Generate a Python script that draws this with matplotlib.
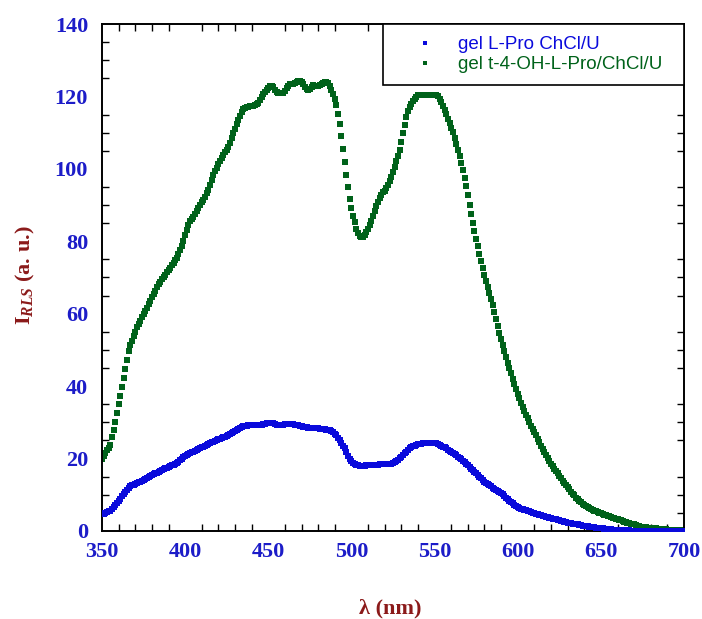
import numpy as np
import matplotlib
matplotlib.use("Agg")
import matplotlib.pyplot as plt
from matplotlib.ticker import MultipleLocator

# RLS intensity, one value per nm starting at 350 nm
l_pro = [
    4.7, 4.8, 5.0, 5.2, 5.4, 5.6, 6.1, 6.7, 7.3, 7.8,
    8.3, 8.9, 9.6, 10.2, 10.8, 11.4, 12.0, 12.4, 12.6, 12.8,
    13.0, 13.2, 13.4, 13.6, 13.9, 14.1, 14.3, 14.6, 14.9, 15.1,
    15.4, 15.6, 15.9, 16.1, 16.4, 16.6, 16.8, 17.1, 17.3, 17.5,
    17.7, 17.9, 18.1, 18.3, 18.5, 18.8, 19.1, 19.5, 19.9, 20.3,
    20.7, 21.0, 21.2, 21.5, 21.7, 21.9, 22.2, 22.4, 22.7, 22.9,
    23.1, 23.3, 23.6, 23.8, 24.0, 24.2, 24.5, 24.7, 24.9, 25.1,
    25.3, 25.5, 25.7, 25.9, 26.0, 26.2, 26.4, 26.7, 27.0, 27.2,
    27.5, 27.8, 28.1, 28.4, 28.7, 29.0, 29.1, 29.1, 29.2, 29.2,
    29.2, 29.2, 29.2, 29.3, 29.3, 29.4, 29.4, 29.5, 29.6, 29.7,
    29.8, 29.9, 29.9, 29.8, 29.6, 29.4, 29.2, 29.2, 29.3, 29.4,
    29.5, 29.5, 29.5, 29.5, 29.5, 29.5, 29.4, 29.4, 29.3, 29.1,
    28.9, 28.8, 28.7, 28.6, 28.5, 28.5, 28.4, 28.4, 28.3, 28.3,
    28.3, 28.2, 28.2, 28.1, 28.1, 28.0, 28.0, 27.8, 27.5, 27.2,
    26.9, 26.4, 25.8, 25.1, 24.4, 23.6, 22.8, 21.7, 20.6, 19.9,
    19.3, 18.8, 18.5, 18.3, 18.1, 18.0, 18.0, 18.0, 18.0, 18.1,
    18.1, 18.1, 18.2, 18.2, 18.2, 18.3, 18.3, 18.4, 18.4, 18.4,
    18.4, 18.4, 18.5, 18.5, 18.5, 18.7, 19.0, 19.3, 19.6, 20.1,
    20.5, 21.0, 21.4, 21.9, 22.4, 22.8, 23.2, 23.4, 23.6, 23.8,
    23.9, 24.0, 24.1, 24.2, 24.2, 24.3, 24.3, 24.3, 24.3, 24.3,
    24.2, 24.2, 24.0, 23.8, 23.6, 23.3, 23.1, 22.8, 22.5, 22.2,
    21.9, 21.6, 21.3, 20.9, 20.5, 20.1, 19.8, 19.4, 19.0, 18.6,
    18.2, 17.7, 17.2, 16.8, 16.3, 15.9, 15.4, 15.0, 14.5, 14.1,
    13.6, 13.3, 12.9, 12.6, 12.3, 12.0, 11.7, 11.4, 11.1, 10.9,
    10.5, 10.1, 9.6, 9.2, 8.7, 8.3, 7.9, 7.6, 7.2, 6.9,
    6.6, 6.4, 6.2, 6.1, 5.9, 5.7, 5.6, 5.4, 5.2, 5.0,
    4.9, 4.7, 4.6, 4.5, 4.3, 4.2, 4.0, 3.9, 3.8, 3.6,
    3.5, 3.4, 3.3, 3.2, 3.0, 2.9, 2.8, 2.7, 2.6, 2.4,
    2.3, 2.2, 2.1, 2.0, 1.9, 1.9, 1.8, 1.7, 1.6, 1.5,
    1.4, 1.4, 1.3, 1.2, 1.1, 1.1, 1.0, 0.9, 0.8, 0.8,
    0.7, 0.7, 0.6, 0.6, 0.5, 0.5, 0.5, 0.4, 0.4, 0.4,
    0.3, 0.3, 0.3, 0.3, 0.2, 0.2, 0.2, 0.2, 0.1, 0.1,
    0.1, 0.1, 0.1, 0.1, 0.1, 0.1, 0.1, 0.1, 0.1, 0.1,
    0.1, 0.1, 0.1, 0.1, 0.1, 0.1, 0.1, 0.1, 0.1, 0.1,
    0.1, 0.1, 0.1, 0.1, 0.1, 0.1, 0.1, 0.1, 0.1, 0.1,
    0.1,
]

oh_l_pro = [
    20.0, 20.8, 21.5, 22.3, 23.0, 23.7, 25.9, 28.0, 30.2, 32.5,
    35.0, 37.2, 39.7, 42.3, 44.8, 47.3, 49.8, 51.4, 52.6, 53.8,
    55.0, 56.2, 57.2, 58.1, 59.0, 59.9, 60.8, 61.7, 62.6, 63.6,
    64.6, 65.5, 66.4, 67.3, 68.1, 68.8, 69.6, 70.2, 70.8, 71.4,
    72.0, 72.7, 73.4, 74.1, 74.8, 75.5, 76.4, 77.5, 78.7, 80.2,
    81.7, 83.2, 84.6, 85.6, 86.2, 86.8, 87.4, 88.3, 89.2, 90.0,
    90.8, 91.5, 92.2, 93.2, 94.3, 95.5, 96.9, 98.3, 99.3, 100.3,
    101.3, 102.2, 103.0, 103.8, 104.6, 105.3, 106.1, 107.1, 108.4, 110.0,
    111.0, 112.3, 113.6, 114.7, 115.6, 116.4, 116.9, 117.1, 117.2, 117.3,
    117.4, 117.4, 117.5, 117.8, 118.3, 119.0, 119.8, 120.6, 121.2, 121.8,
    122.4, 122.8, 122.9, 122.5, 121.8, 121.2, 121.0, 120.9, 120.9, 121.0,
    121.6, 122.3, 123.0, 123.3, 123.4, 123.5, 123.7, 124.0, 124.3, 124.3,
    124.0, 123.4, 122.6, 122.1, 121.9, 122.0, 122.6, 123.1, 123.0, 122.9,
    123.0, 123.2, 123.3, 123.6, 124.0, 124.1, 123.6, 122.8, 121.9, 120.8,
    119.2, 117.6, 115.2, 112.3, 109.0, 105.6, 102.0, 98.2, 94.9, 91.8,
    89.2, 87.0, 85.2, 83.4, 82.2, 81.4, 81.1, 81.3, 81.8, 82.6,
    83.4, 84.4, 85.6, 87.0, 88.4, 89.8, 90.9, 91.9, 92.8, 93.5,
    94.0, 94.6, 95.5, 96.6, 97.8, 99.0, 100.6, 102.2, 103.6, 105.2,
    107.4, 109.8, 112.2, 114.3, 115.9, 117.0, 117.8, 118.7, 119.4, 119.9,
    120.3, 120.5, 120.5, 120.5, 120.5, 120.5, 120.5, 120.5, 120.5, 120.5,
    120.5, 120.4, 120.0, 119.3, 118.4, 117.4, 116.3, 115.1, 113.8, 112.6,
    111.3, 110.3, 108.6, 107.0, 105.3, 103.5, 101.6, 99.6, 97.6, 95.3,
    92.7, 90.0, 87.4, 85.1, 82.9, 80.7, 78.6, 76.5, 74.5, 72.7,
    70.8, 69.1, 67.4, 65.7, 64.0, 62.3, 60.5, 58.6, 56.7, 54.8,
    53.0, 51.3, 49.6, 48.0, 46.4, 44.9, 43.5, 42.1, 40.7, 39.3,
    37.9, 36.7, 35.4, 34.2, 33.1, 32.1, 31.1, 30.1, 29.1, 28.2,
    27.3, 26.4, 25.5, 24.5, 23.6, 22.7, 21.8, 21.0, 20.2, 19.4,
    18.6, 17.9, 17.2, 16.6, 15.9, 15.2, 14.5, 13.9, 13.2, 12.6,
    12.1, 11.5, 10.9, 10.3, 9.8, 9.2, 8.7, 8.3, 7.9, 7.5,
    7.1, 6.8, 6.5, 6.3, 6.1, 5.8, 5.6, 5.4, 5.2, 5.0,
    4.9, 4.7, 4.5, 4.4, 4.2, 4.0, 3.8, 3.7, 3.5, 3.4,
    3.2, 3.1, 2.9, 2.7, 2.6, 2.4, 2.3, 2.2, 2.0, 1.9,
    1.8, 1.6, 1.5, 1.3, 1.2, 1.1, 1.1, 1.0, 0.9, 0.9,
    0.8, 0.8, 0.7, 0.7, 0.6, 0.6, 0.6, 0.5, 0.5, 0.5,
    0.4, 0.4, 0.4, 0.4, 0.3, 0.3, 0.3, 0.3, 0.3, 0.2,
    0.2,
]

wl_blue = np.arange(350, 350 + len(l_pro))
wl_green = np.arange(350, 350 + len(oh_l_pro))

labels = ["gel L-Pro ChCl/U", "gel t-4-OH-L-Pro/ChCl/U"]
blue = "#0a0adc"
green = "#00621a"
tick_col = "#1c1cc8"
label_col = "#8b1a1a"

plt.rcParams["mathtext.fontset"] = "custom"
plt.rcParams["mathtext.rm"] = "Liberation Serif:bold"
plt.rcParams["mathtext.bf"] = "Liberation Serif:bold"
plt.rcParams["mathtext.it"] = "Liberation Serif:bold:italic"

fig = plt.figure(figsize=(7.02, 6.19), dpi=100)
ax = fig.add_axes([0.1453, 0.1422, 0.8291, 0.819])

ax.plot(wl_blue, l_pro, "s", color=blue, ms=3.7, mew=0, label=labels[0], zorder=3)
ax.plot(wl_green, oh_l_pro, "s", color=green, ms=3.7, mew=0, label=labels[1], zorder=2)

ax.set_xlim(350, 700)
ax.set_ylim(0, 140)
ax.xaxis.set_major_locator(MultipleLocator(50))
ax.xaxis.set_minor_locator(MultipleLocator(10))
ax.yaxis.set_major_locator(MultipleLocator(20))
ax.yaxis.set_minor_locator(MultipleLocator(5))
ax.tick_params(which="major", length=0)
ax.tick_params(axis="x", which="major", pad=8)
ax.tick_params(axis="y", which="major", pad=10)
ax.tick_params(which="minor", direction="in", length=5, width=1,
               top=True, right=True)
for s in ax.spines.values():
    s.set_linewidth(1.4)

for t in ax.get_xticklabels() + ax.get_yticklabels():
    t.set_fontfamily("Liberation Serif")
    t.set_fontweight("bold")
    t.set_fontsize(16)
    t.set_color(tick_col)

ax.set_xlabel(r"λ (nm)", family="Liberation Serif", weight="bold",
              fontsize=16, color=label_col, va="center")
ax.xaxis.set_label_coords(0.495, -0.152)
ax.set_ylabel(r"I$_{\mathit{RLS}}$ (a. u.)", family="Liberation Serif",
              weight="bold", fontsize=16, color=label_col, va="center")
ax.yaxis.set_label_coords(-0.132, 0.505)

leg = ax.legend(loc="upper left", bbox_to_anchor=(0.483, 1.0, 0.517, 0.0),
                mode="expand", borderaxespad=0, fancybox=False,
                edgecolor="black", framealpha=1, numpoints=1,
                handlelength=3.15, handletextpad=0.2, markerscale=0.75,
                labelspacing=0.15, borderpad=0.65,
                prop={"family": "Liberation Sans", "size": 13.5},
                labelcolor=[blue, green])
leg.get_frame().set_linewidth(1.2)
leg.set_zorder(5)

fig.savefig("out.png", dpi=100)
